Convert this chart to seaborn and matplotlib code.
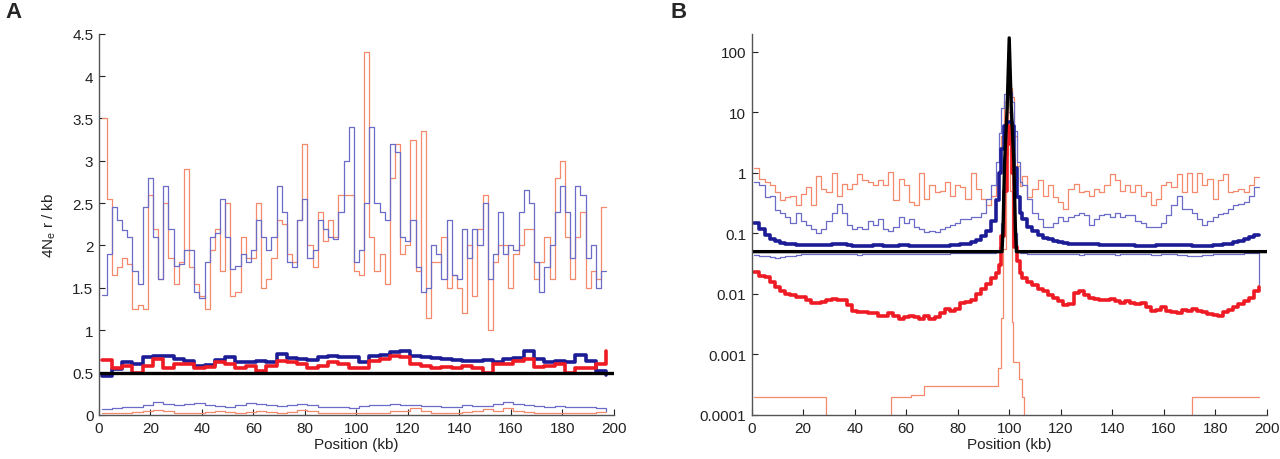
import numpy as np
import matplotlib
matplotlib.use("Agg")
import matplotlib.pyplot as plt
import seaborn as sns
from matplotlib.ticker import FixedLocator, FixedFormatter

# === Data (kb positions, 4Ner/kb values) ===
# Panel A, thin noisy lines on 2 kb bins starting at 1 kb
edges_a2 = np.arange(1, 198, 2)
orange_a = [3.5, 2.55, 1.65, 1.75, 1.85, 1.78, 1.25, 1.3, 1.25, 2.6,
            2.2, 1.6, 2.5, 1.85, 1.55, 1.8, 2.9, 1.75, 1.55, 1.4,
            1.25, 1.95, 2.2, 1.7, 2.5, 1.4, 1.45, 2.1, 1.85, 1.85,
            2.5, 1.5, 1.6, 1.85, 2.3, 2.25, 1.9, 1.8, 2.3, 3.2,
            2.0, 1.75, 2.4, 2.05, 2.3, 2.1, 2.6, 2.6, 2.6, 1.7,
            1.65, 4.28, 2.1, 1.7, 1.9, 1.55, 2.8, 3.2, 1.9, 2.0,
            3.25, 1.7, 3.35, 1.15, 1.8, 1.8, 2.1, 1.5, 1.65, 1.5,
            1.2, 2.0, 1.4, 2.2, 2.6, 1.0, 1.8, 2.0, 2.0, 1.5,
            1.9, 2.0, 2.2, 2.2, 1.6, 1.8, 2.1, 1.6, 2.8, 3.0,
            2.1, 1.6, 2.1, 2.4, 1.5, 1.7, 1.6, 2.45]
blue_a = [1.41, 1.9, 2.45, 2.3, 2.18, 2.1, 1.7, 1.55, 2.45, 2.8,
          2.1, 1.6, 2.7, 2.2, 1.76, 1.78, 1.95, 1.95, 1.45, 1.38,
          1.8, 2.1, 2.15, 2.55, 2.1, 1.72, 1.76, 1.9, 1.8, 1.95,
          2.3, 2.1, 1.95, 2.1, 2.7, 2.4, 1.8, 1.75, 2.3, 2.55,
          1.85, 1.95, 2.3, 2.2, 2.1, 2.08, 2.4, 3.0, 3.4, 1.8,
          1.95, 2.5, 3.4, 2.5, 2.4, 2.3, 3.2, 3.1, 2.1, 2.05,
          2.3, 1.75, 1.45, 1.5, 2.0, 1.9, 1.6, 2.3, 1.65, 1.6,
          2.2, 1.85, 2.2, 2.0, 2.5, 1.6, 1.9, 2.4, 1.9, 2.0,
          1.95, 2.4, 2.65, 2.5, 1.8, 1.45, 1.75, 2.0, 2.4, 2.7,
          2.4, 1.85, 2.7, 2.6, 1.85, 2.0, 1.5, 1.7]

# Panel A, smoother lines on 4 kb bins
edges_a4 = np.arange(1, 198, 4)
thick_blue_a = [0.46, 0.54, 0.62, 0.6, 0.68, 0.7, 0.7, 0.66, 0.64, 0.58,
                0.59, 0.65, 0.68, 0.62, 0.62, 0.64, 0.62, 0.72, 0.67, 0.66,
                0.65, 0.68, 0.7, 0.68, 0.68, 0.62, 0.7, 0.71, 0.74, 0.76,
                0.7, 0.68, 0.67, 0.66, 0.65, 0.64, 0.64, 0.65, 0.62, 0.66,
                0.67, 0.76, 0.66, 0.62, 0.64, 0.62, 0.71, 0.64, 0.52]
thick_red_a = [0.65, 0.56, 0.58, 0.5, 0.58, 0.66, 0.56, 0.6, 0.6, 0.56,
               0.57, 0.62, 0.6, 0.56, 0.58, 0.52, 0.58, 0.64, 0.62, 0.6,
               0.55, 0.58, 0.62, 0.6, 0.56, 0.55, 0.64, 0.66, 0.7, 0.68,
               0.6, 0.58, 0.55, 0.57, 0.56, 0.58, 0.55, 0.5, 0.6, 0.6,
               0.64, 0.66, 0.57, 0.58, 0.6, 0.5, 0.56, 0.56, 0.6]
low_blue_a = [0.07, 0.078, 0.09, 0.095, 0.12, 0.15, 0.13, 0.12, 0.13, 0.14,
              0.12, 0.11, 0.1, 0.12, 0.14, 0.13, 0.12, 0.11, 0.12, 0.13,
              0.12, 0.1, 0.09, 0.09, 0.085, 0.11, 0.12, 0.12, 0.13, 0.12,
              0.12, 0.11, 0.11, 0.1, 0.1, 0.12, 0.11, 0.11, 0.13, 0.15,
              0.13, 0.12, 0.11, 0.1, 0.11, 0.1, 0.09, 0.09, 0.085]
low_orange_a = [0.02, 0.02, 0.024, 0.03, 0.043, 0.059, 0.043, 0.027, 0.027, 0.02,
                0.03, 0.051, 0.03, 0.024, 0.03, 0.051, 0.04, 0.027, 0.03, 0.06,
                0.043, 0.027, 0.024, 0.02, 0.02, 0.027, 0.024, 0.027, 0.043, 0.051,
                0.078, 0.051, 0.024, 0.02, 0.027, 0.04, 0.051, 0.07, 0.043, 0.085,
                0.043, 0.03, 0.024, 0.024, 0.02, 0.024, 0.027, 0.024, 0.03]
neutral_a = 0.5

# Panel B, 2 kb bins away from the centre, 1 kb bins at the centre
edges_b = np.concatenate([np.arange(1, 95, 2), np.arange(95, 105), np.arange(105, 198, 2)])
orange_b = [1.2, 0.8, 0.7, 0.62, 0.48, 0.35, 0.4, 0.42, 0.3, 0.45,
            0.58, 0.3, 0.9, 0.55, 0.48, 1.0, 0.42, 0.66, 0.55, 0.66,
            0.96, 0.75, 0.7, 0.62, 0.75, 0.62, 1.05, 0.35, 0.8, 0.62,
            0.33, 0.29, 1.0, 0.37, 0.62, 0.48, 0.5, 0.7, 0.42, 0.62,
            0.58, 0.37, 1.0, 0.55, 0.37, 0.29, 0.42,
            0.6, 1.1, 4, 15, 25, 25, 18, 4, 1.3, 0.6,
            0.9, 0.4, 0.55, 0.75, 0.42, 0.62, 0.4, 0.33, 0.25, 0.55,
            0.66, 0.48, 0.5, 0.42, 0.55, 0.48, 0.62, 0.96, 0.75, 0.5,
            0.62, 0.48, 0.62, 0.42, 0.48, 0.29, 0.37, 0.62, 0.7, 0.58,
            0.96, 0.48, 1.0, 0.48, 1.0, 0.62, 0.8, 0.37, 0.75, 0.96,
            0.48, 0.5, 0.55, 0.48, 0.62, 0.85]
blue_b = [0.7, 0.62, 0.4, 0.42, 0.24, 0.22, 0.19, 0.15, 0.22, 0.16,
          0.14, 0.12, 0.1, 0.12, 0.16, 0.22, 0.31, 0.22, 0.14, 0.12,
          0.13, 0.12, 0.16, 0.14, 0.17, 0.12, 0.11, 0.13, 0.19, 0.15,
          0.17, 0.13, 0.12, 0.105, 0.11, 0.105, 0.12, 0.13, 0.14, 0.15,
          0.17, 0.17, 0.19, 0.19, 0.22, 0.37, 0.62,
          1.5, 4.5, 12, 20, 22, 22, 15, 5, 1.5, 0.7,
          0.62, 0.37, 0.22, 0.17, 0.13, 0.13, 0.15, 0.19, 0.16, 0.19,
          0.2, 0.22, 0.2, 0.14, 0.17, 0.2, 0.21, 0.19, 0.22, 0.19,
          0.2, 0.2, 0.16, 0.15, 0.13, 0.13, 0.13, 0.15, 0.2, 0.29,
          0.42, 0.25, 0.25, 0.22, 0.17, 0.14, 0.16, 0.19, 0.21, 0.22,
          0.25, 0.29, 0.31, 0.33, 0.42, 0.58]
thick_blue_b = [0.15, 0.12, 0.095, 0.082, 0.074, 0.07, 0.068, 0.066, 0.065, 0.064,
                0.064, 0.064, 0.064, 0.065, 0.065, 0.066, 0.067, 0.066, 0.064, 0.063,
                0.062, 0.062, 0.063, 0.064, 0.064, 0.063, 0.063, 0.063, 0.064, 0.064,
                0.063, 0.063, 0.063, 0.062, 0.062, 0.062, 0.063, 0.063, 0.064, 0.065,
                0.066, 0.068, 0.072, 0.078, 0.09, 0.11, 0.16,
                0.35, 1.0, 2.5, 6, 7, 7, 6, 1.2, 0.4, 0.22,
                0.17, 0.13, 0.11, 0.095, 0.085, 0.08, 0.075, 0.072, 0.07, 0.068,
                0.067, 0.067, 0.066, 0.066, 0.066, 0.065, 0.065, 0.065, 0.065, 0.065,
                0.064, 0.064, 0.063, 0.063, 0.063, 0.063, 0.064, 0.064, 0.065, 0.065,
                0.065, 0.064, 0.064, 0.063, 0.063, 0.063, 0.063, 0.064, 0.065, 0.066,
                0.068, 0.072, 0.076, 0.082, 0.088, 0.095]
low_blue_b = [0.044, 0.043, 0.042, 0.041, 0.04, 0.041, 0.042, 0.043, 0.044, 0.045,
              0.045, 0.045, 0.046, 0.046, 0.046, 0.045, 0.045, 0.046, 0.046, 0.045,
              0.044, 0.045, 0.045, 0.046, 0.046, 0.045, 0.045, 0.045, 0.046, 0.046,
              0.046, 0.045, 0.045, 0.045, 0.046, 0.046, 0.046, 0.046, 0.047, 0.047,
              0.047, 0.047, 0.047, 0.047, 0.048, 0.048, 0.048,
              0.05, 0.06, 0.15, 1.5, 10, 10, 1.5, 0.1, 0.05, 0.047,
              0.047, 0.046, 0.046, 0.046, 0.046, 0.045, 0.045, 0.046, 0.046, 0.045,
              0.045, 0.044, 0.045, 0.045, 0.046, 0.046, 0.045, 0.045, 0.044, 0.045,
              0.045, 0.046, 0.046, 0.045, 0.045, 0.044, 0.044, 0.045, 0.046, 0.045,
              0.044, 0.044, 0.043, 0.043, 0.043, 0.044, 0.044, 0.045, 0.045, 0.046,
              0.046, 0.046, 0.046, 0.047, 0.047, 0.047]
red_b = [0.023, 0.02, 0.019, 0.016, 0.013, 0.011, 0.01, 0.0095, 0.009, 0.009,
         0.0078, 0.007, 0.007, 0.0074, 0.0078, 0.0083, 0.0078, 0.0078, 0.0065, 0.0053,
         0.005, 0.005, 0.0048, 0.0048, 0.0044, 0.0044, 0.0048, 0.0044, 0.0039, 0.0042,
         0.0044, 0.0042, 0.0039, 0.0044, 0.0039, 0.0042, 0.0048, 0.0057, 0.0053, 0.0057,
         0.007, 0.0074, 0.0078, 0.01, 0.012, 0.0146, 0.018,
         0.022, 0.03, 0.09, 0.5, 3, 6, 1.0, 0.06, 0.035, 0.022,
         0.018, 0.016, 0.014, 0.012, 0.011, 0.0095, 0.0085, 0.0075, 0.0065, 0.0068,
         0.0105, 0.011, 0.0095, 0.0085, 0.0083, 0.008, 0.0078, 0.0083, 0.0075, 0.0072,
         0.0075, 0.007, 0.0068, 0.0072, 0.006, 0.0052, 0.0055, 0.0062, 0.0053, 0.005,
         0.0048, 0.0055, 0.0052, 0.0056, 0.0052, 0.005, 0.0047, 0.0045, 0.0043, 0.005,
         0.0055, 0.006, 0.0068, 0.0075, 0.0085, 0.011]
# bottom salmon line of panel B (drops below the axis where ~0)
edges_low_b = [1, 29, 54, 62, 67, 95.8, 96.8, 97.7, 98.8, 99.5, 100.4, 101, 101.6,
               103.9, 104.8, 105.9, 171, 197]
low_orange_b = [2e-4, 1e-6, 2e-4, 2.1e-4, 3e-4, 6e-4, 4e-3, 0.055, 2.0, 25, 0.5,
                0.0035, 7.6e-4, 4e-4, 2e-4, 1e-6, 2e-4]
# neutral expectation (black), peaked at the centre in B
black_b_x = [0, 97.2, 97.6, 98.2, 99.2, 100, 100.8, 101.8, 102.4, 102.8, 200]
black_b_y = [0.05, 0.05, 0.12, 1.5, 12, 170, 12, 1.5, 0.12, 0.05, 0.05]

# === Styling ===
sns.set_style("ticks")
plt.rcParams["font.family"] = ["Liberation Sans", "DejaVu Sans"]
plt.rcParams["mathtext.fontset"] = "custom"
plt.rcParams["mathtext.rm"] = "Liberation Sans"
plt.rcParams["mathtext.it"] = "Liberation Sans"

SALMON = "#f4896c"
LBLUE = "#6b6bc8"
NAVY = "#1c1c96"
RED = "#ee1b24"

fig = plt.figure(figsize=(12.8, 4.6), dpi=100)
ax_a = fig.add_axes([0.0773, 0.0957, 0.4023, 0.829])
ax_b = fig.add_axes([0.5873, 0.0957, 0.4023, 0.829])


def step(ax, edges, vals, color, lw, end=None):
    ys = list(vals) + [vals[-1] if end is None else end]
    sns.lineplot(x=np.asarray(edges, float), y=ys, ax=ax, color=color, linewidth=lw,
                 drawstyle="steps-post", estimator=None, sort=False)


# Panel A
step(ax_a, edges_a2, orange_a, SALMON, 0.9)
step(ax_a, edges_a2, blue_a, LBLUE, 0.9)
step(ax_a, edges_a4, low_blue_a, LBLUE, 0.9, end=0.05)
step(ax_a, edges_a4, low_orange_a, SALMON, 0.9)
step(ax_a, edges_a4, thick_blue_a, NAVY, 2.6, end=0.47)
step(ax_a, edges_a4, thick_red_a, RED, 2.6, end=0.75)
sns.lineplot(x=[0, 200], y=[neutral_a, neutral_a], ax=ax_a, color="black", linewidth=2.4)

# Panel B
step(ax_b, edges_b, orange_b, SALMON, 0.9)
step(ax_b, edges_b, blue_b, LBLUE, 0.9)
step(ax_b, edges_b, low_blue_b, LBLUE, 0.9, end=0.013)
step(ax_b, edges_low_b, low_orange_b, SALMON, 0.9)
step(ax_b, edges_b, thick_blue_b, NAVY, 2.6, end=0.095)
step(ax_b, edges_b, red_b, RED, 2.6, end=0.013)
sns.lineplot(x=black_b_x, y=black_b_y, ax=ax_b, color="black", linewidth=2.4, sort=False)

for ax in (ax_a, ax_b):
    ax.set_xlim(0, 200)
    ax.set_xticks(np.arange(0, 201, 20))
    ax.set_xlabel("Position (kb)", fontsize=11, color="#222222", labelpad=2)
    ax.tick_params(direction="in", length=4, width=0.8, labelsize=11,
                   colors="#222222", pad=4)
    for s in ("top", "right"):
        ax.spines[s].set_visible(False)
    for s in ("left", "bottom"):
        ax.spines[s].set_color("#555555")
        ax.spines[s].set_linewidth(1.0)

ax_a.set_ylim(0, 4.5)
ax_a.set_yticks(np.arange(0, 4.6, 0.5))
ax_a.set_yticklabels(["%g" % v for v in np.arange(0, 4.6, 0.5)])
ax_a.set_ylabel("4N$_\\mathregular{e}$ r / kb", fontsize=11, color="#222222", labelpad=10)

ax_b.set_yscale("log")
ax_b.set_ylim(1e-4, 200)
b_ticks = [1e-4, 1e-3, 1e-2, 1e-1, 1, 10, 100]
ax_b.yaxis.set_major_locator(FixedLocator(b_ticks))
ax_b.yaxis.set_major_formatter(FixedFormatter(["0.0001", "0.001", "0.01", "0.1", "1", "10", "100"]))
ax_b.minorticks_off()

fig.text(0.004, 0.995, "A", fontsize=16, fontweight="bold", va="top", ha="left")
fig.text(0.524, 0.995, "B", fontsize=16, fontweight="bold", va="top", ha="left")

fig.savefig("out.png", dpi=100)
